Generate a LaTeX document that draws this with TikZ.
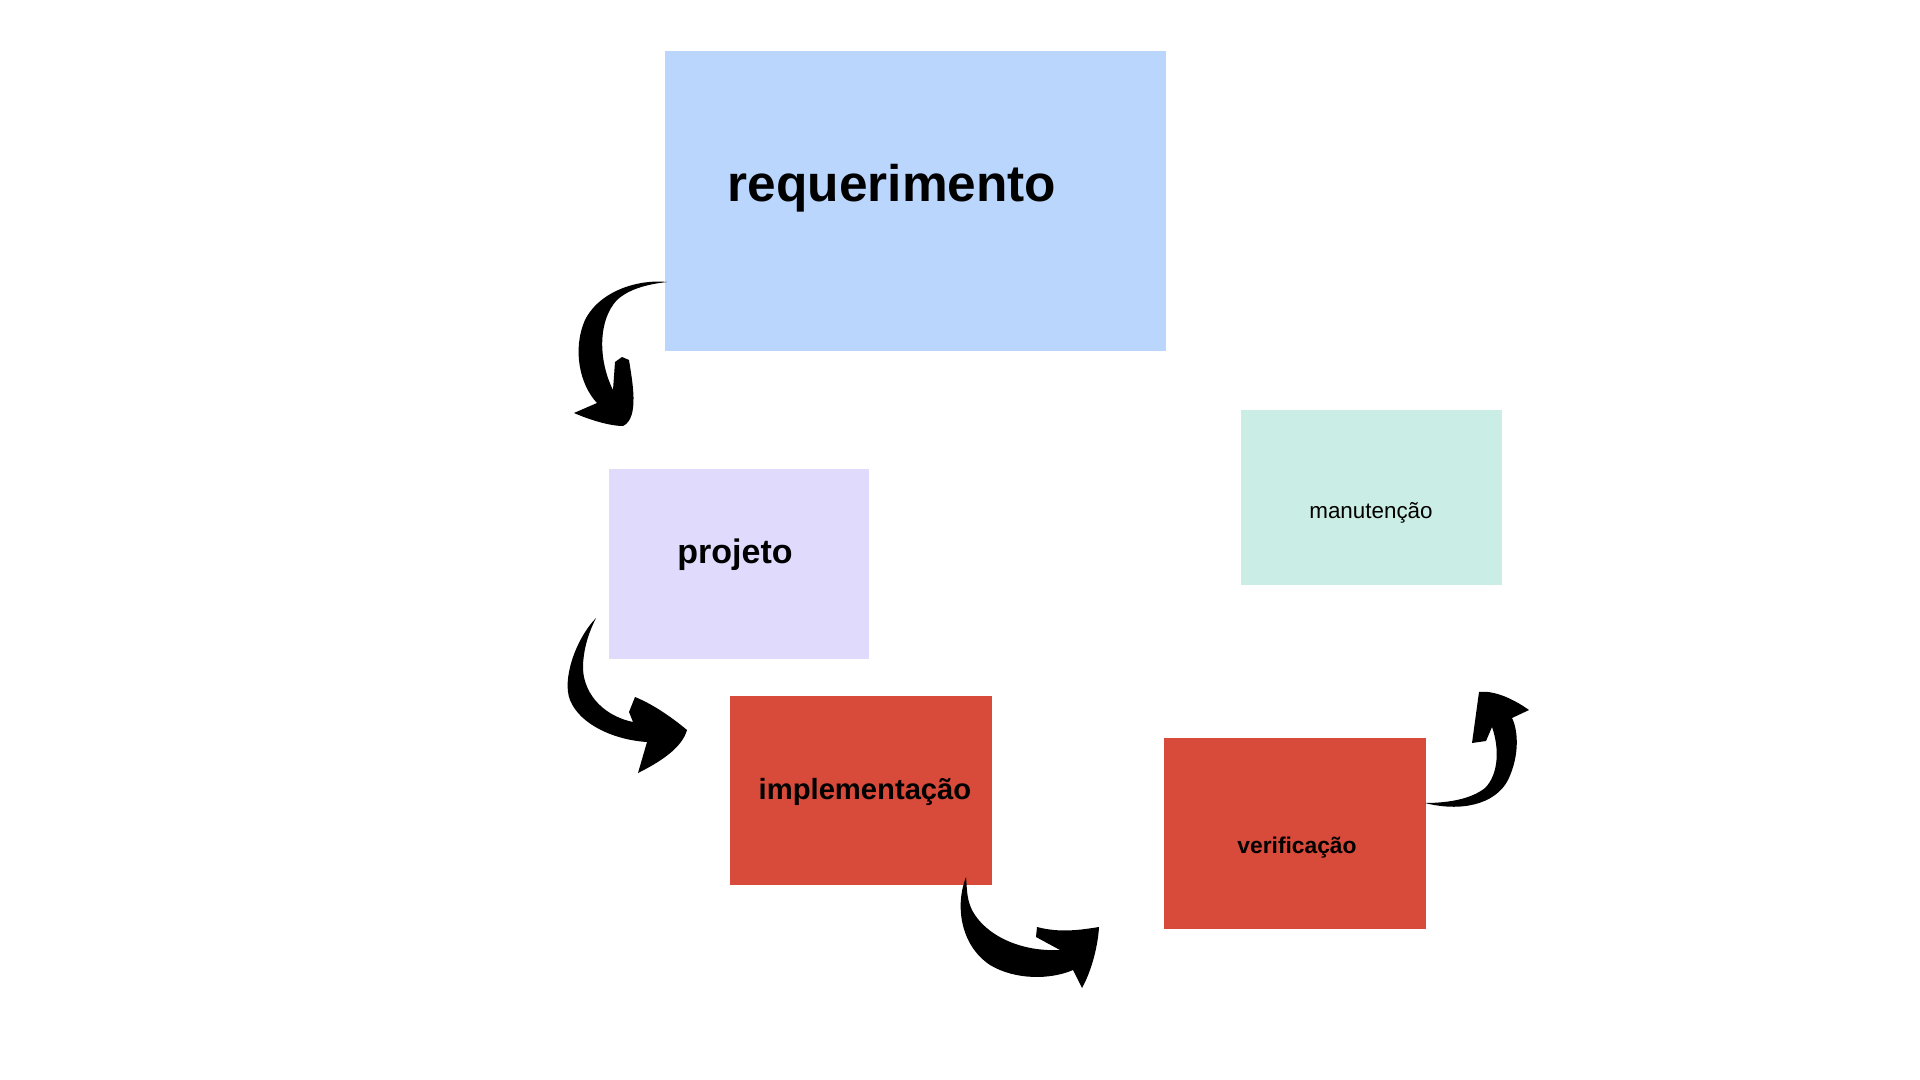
\documentclass[tikz,border=0pt]{standalone}
\usepackage{fontspec}
\setmainfont{Liberation Sans}
\usepackage{tikz}
\definecolor{reqblue}{RGB}{186,214,253}
\definecolor{projlilac}{RGB}{224,219,253}
\definecolor{manutmint}{RGB}{202,237,229}
\definecolor{implred}{RGB}{216,74,58}
\begin{document}
\begin{tikzpicture}[x=0.5pt,y=-0.5pt,
    box/.style={rectangle,inner sep=0pt,outer sep=0pt,anchor=north west},
    brush/.style={fill=black}]
      \useasboundingbox (0,0) rectangle (1920,1080);
      \node [box,fill=reqblue,minimum width=250.5pt,minimum height=150pt] (req) at (665,51) {};
      \node [box,fill=projlilac,minimum width=130pt,minimum height=95pt] (proj) at (609,469) {};
      \node [box,fill=manutmint,minimum width=130.5pt,minimum height=87.5pt] (manut) at (1241,410) {};
      \node [box,fill=implred,minimum width=131pt,minimum height=94.5pt] (impl) at (730,696) {};
      \node [box,fill=implred,minimum width=131pt,minimum height=95.5pt] (verif) at (1164,738) {};
      \node [anchor=base] (reqtext) at (892,202) {\fontsize{25.7pt}{30pt}\selectfont\bfseries requerimento};
      \node [anchor=base] (projtext) at (735,563) {\fontsize{17pt}{20pt}\selectfont\bfseries projeto};
      \node [anchor=base] (impltext) at (865,799) {\fontsize{14.6pt}{17pt}\selectfont\bfseries implementação};
      \node [anchor=base] (veriftext) at (1297,853) {\fontsize{11.4pt}{14pt}\selectfont\bfseries verificação};
      \node [anchor=base] (manuttext) at (1371,518) {\fontsize{11.2pt}{14pt}\selectfont manutenção};
      \coordinate (a1s) at (667,282);
      \coordinate (a1e) at (623,426);
      \coordinate (a2s) at (596,618);
      \coordinate (a2e) at (687,730);
      \coordinate (a3s) at (966,877);
      \coordinate (a3e) at (1099,927);
      \coordinate (a4s) at (1425,803);
      \coordinate (a4e) at (1479,692);
      \fill[brush] (a1s) .. controls (640,279) and (600,290) .. (585,320)
        .. controls (572,350) and (580,385) .. (597,403) -- (574,413)
        .. controls (590,420) and (610,426) .. (a1e)
        .. controls (640,418) and (632,380) .. (629,360) -- (622,357) -- (615,362) -- (613,390)
        .. controls (598,360) and (598,320) .. (617,300)
        .. controls (630,288) and (650,284) .. (a1s) -- cycle;
      \fill[brush] (a2s) .. controls (575,640) and (562,680) .. (570,700)
        .. controls (580,725) and (615,740) .. (647,742) -- (638,773)
        .. controls (660,762) and (682,748) .. (a2e)
        .. controls (675,720) and (655,705) .. (635,697) -- (629,712) -- (633,722)
        .. controls (600,715) and (582,690) .. (583,665)
        .. controls (584,645) and (590,630) .. (a2s) -- cycle;
      \fill[brush] (a3s) .. controls (955,905) and (960,945) .. (990,965)
        .. controls (1015,980) and (1050,980) .. (1073,970) -- (1082,988)
        .. controls (1092,970) and (1098,945) .. (a3e)
        .. controls (1080,930) and (1060,933) .. (1037,927) -- (1036,937) -- (1060,950)
        .. controls (1020,952) and (985,935) .. (972,910)
        .. controls (966,898) and (967,885) .. (a3s) -- cycle;
      \fill[brush] (a4s) .. controls (1460,812) and (1495,805) .. (1508,780)
        .. controls (1520,755) and (1518,730) .. (1512,718) -- (1529,710)
        .. controls (1515,700) and (1495,690) .. (a4e)
        -- (1472,743) -- (1486,741) -- (1492,727)
        .. controls (1500,750) and (1498,775) .. (1485,788)
        .. controls (1470,800) and (1445,803) .. (a4s) -- cycle;
\end{tikzpicture}
\end{document}
